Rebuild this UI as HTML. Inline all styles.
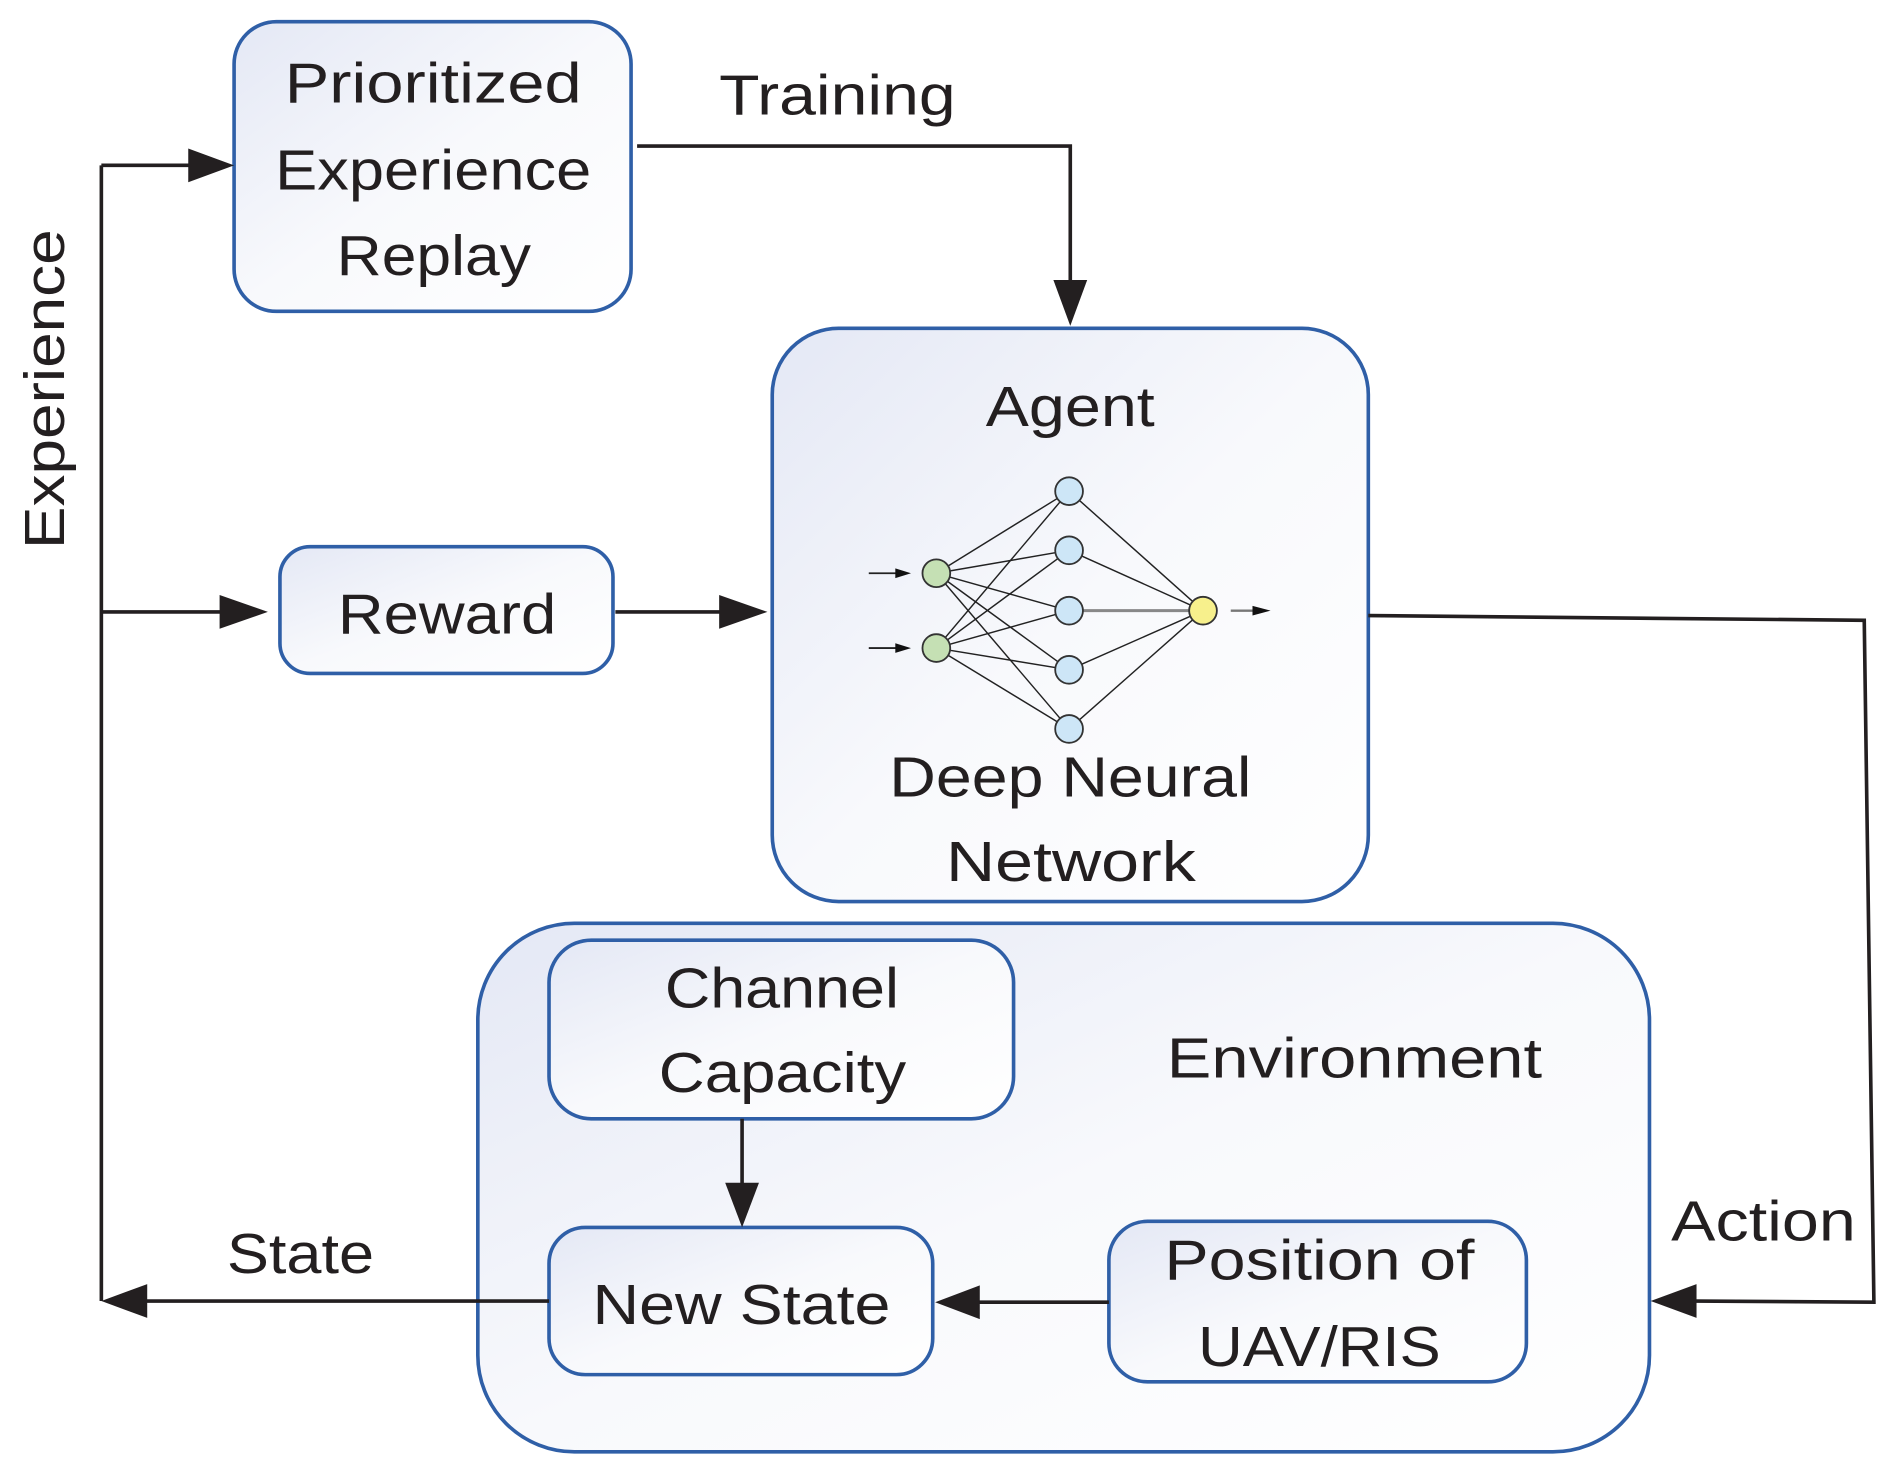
<!DOCTYPE html>
<html><head><meta charset="utf-8"><style>
html,body{margin:0;padding:0;background:#fff;}
svg{display:block;}
text{font-family:"Liberation Sans",sans-serif;font-size:47px;fill:#231f20;}
</style></head><body>
<svg width="1892" height="1476" viewBox="0 0 1568 1223" preserveAspectRatio="none" xmlns="http://www.w3.org/2000/svg">
<defs>
<linearGradient id="g" x1="0" y1="0" x2="1" y2="1">
<stop offset="0" stop-color="#e4e8f5"/><stop offset="0.5" stop-color="#f8f9fc"/><stop offset="1" stop-color="#ffffff"/>
</linearGradient>
<marker id="a" markerWidth="10" markerHeight="8" refX="9.5" refY="4" orient="auto" markerUnits="userSpaceOnUse" viewBox="0 0 10 8">
</marker>
</defs>
<g stroke="#2f5fa7" stroke-width="3" fill="url(#g)">
<rect x="194" y="18" width="329" height="240" rx="35"/>
<rect x="640" y="272" width="494" height="475" rx="55"/>
<rect x="232" y="453" width="276" height="105" rx="25"/>
<rect x="396" y="765" width="971" height="438" rx="80"/>
<rect x="455" y="779" width="385" height="148" rx="35"/>
<rect x="455" y="1017" width="318" height="122" rx="30"/>
<rect x="919" y="1012" width="346" height="133" rx="32"/>
</g>
<g stroke="#231f20" stroke-width="3" fill="none">
<polyline points="528,121 887,121 887,235"/>
<polyline points="84,137 84,1078"/>
<line x1="84" y1="137" x2="160" y2="137"/>
<line x1="84" y1="507" x2="185" y2="507"/>
<line x1="510" y1="507" x2="600" y2="507"/>
<polyline points="1134,510 1545,514 1553,1079 1405,1078"/>
<line x1="615" y1="927" x2="615" y2="985"/>
<line x1="919" y1="1079" x2="810" y2="1079"/>
<line x1="455" y1="1078" x2="120" y2="1078"/>
</g>
<g fill="#231f20">
<polygon points="873,232 901,232 887,270"/>
<polygon points="156,123 156,151 194,137"/>
<polygon points="182,493 182,521 222,507"/>
<polygon points="596,493 596,521 636,507"/>
<polygon points="1406,1064 1406,1092 1368,1078"/>
<polygon points="601,980 629,980 615,1017"/>
<polygon points="812,1065 812,1093 775,1079"/>
<polygon points="122,1064 122,1092 84,1078"/>
</g>
<!-- neural net -->
<g stroke="#222" stroke-width="1.2">
<g>
<line x1="776" y1="475" x2="886" y2="407"/><line x1="776" y1="475" x2="886" y2="456"/><line x1="776" y1="475" x2="886" y2="506"/><line x1="776" y1="475" x2="886" y2="555"/><line x1="776" y1="475" x2="886" y2="604"/>
<line x1="776" y1="537" x2="886" y2="407"/><line x1="776" y1="537" x2="886" y2="456"/><line x1="776" y1="537" x2="886" y2="506"/><line x1="776" y1="537" x2="886" y2="555"/><line x1="776" y1="537" x2="886" y2="604"/>
<line x1="886" y1="407" x2="997" y2="506"/><line x1="886" y1="456" x2="997" y2="506"/><line x1="886" y1="555" x2="997" y2="506"/><line x1="886" y1="604" x2="997" y2="506"/>
</g>
<line x1="886" y1="506" x2="997" y2="506" stroke="#888" stroke-width="2.5"/>
<line x1="720" y1="475" x2="745" y2="475" stroke-width="1.5"/>
<line x1="720" y1="537" x2="745" y2="537" stroke-width="1.5"/>
<line x1="1020" y1="506" x2="1040" y2="506" stroke="#777" stroke-width="2"/>
</g>
<g fill="#111">
<polygon points="742,471 742,479 755,475"/>
<polygon points="742,533 742,541 755,537"/>
<polygon points="1038,502 1038,510 1053,506"/>
</g>
<g stroke="#333" stroke-width="1.5">
<circle cx="776" cy="475" r="11.5" fill="#c5e0b4"/>
<circle cx="776" cy="537" r="11.5" fill="#c5e0b4"/>
<circle cx="886" cy="407" r="11.5" fill="#cde6f7"/>
<circle cx="886" cy="456" r="11.5" fill="#cde6f7"/>
<circle cx="886" cy="506" r="11.5" fill="#cde6f7"/>
<circle cx="886" cy="555" r="11.5" fill="#cde6f7"/>
<circle cx="886" cy="604" r="11.5" fill="#cde6f7"/>
<circle cx="997" cy="506" r="11.5" fill="#f7f08c"/>
</g>
<!-- text -->
<text x="236" y="85" textLength="246" lengthAdjust="spacingAndGlyphs">Prioritized</text>
<text x="228" y="157" textLength="262" lengthAdjust="spacingAndGlyphs">Experience</text>
<text x="279" y="228" textLength="161" lengthAdjust="spacingAndGlyphs">Replay</text>
<text x="596" y="95" textLength="196" lengthAdjust="spacingAndGlyphs">Training</text>
<text x="817" y="353" textLength="140" lengthAdjust="spacingAndGlyphs">Agent</text>
<text x="737" y="660" textLength="300" lengthAdjust="spacingAndGlyphs">Deep Neural</text>
<text x="784" y="730" textLength="207" lengthAdjust="spacingAndGlyphs">Network</text>
<text x="280" y="525" textLength="181" lengthAdjust="spacingAndGlyphs">Reward</text>
<text x="551" y="835" textLength="194" lengthAdjust="spacingAndGlyphs">Channel</text>
<text x="546" y="905" textLength="205" lengthAdjust="spacingAndGlyphs">Capacity</text>
<text x="967" y="893" textLength="311" lengthAdjust="spacingAndGlyphs">Environment</text>
<text x="491" y="1097" textLength="247" lengthAdjust="spacingAndGlyphs">New State</text>
<text x="965" y="1060" textLength="257" lengthAdjust="spacingAndGlyphs">Position of</text>
<text x="993" y="1132" textLength="201" lengthAdjust="spacingAndGlyphs">UAV/RIS</text>
<text x="188" y="1055" textLength="122" lengthAdjust="spacingAndGlyphs">State</text>
<text x="1385" y="1028" textLength="153" lengthAdjust="spacingAndGlyphs">Action</text>
<text transform="translate(53,455) rotate(-90)" x="0" y="0" textLength="265" lengthAdjust="spacingAndGlyphs">Experience</text>
</svg>
</body></html>
